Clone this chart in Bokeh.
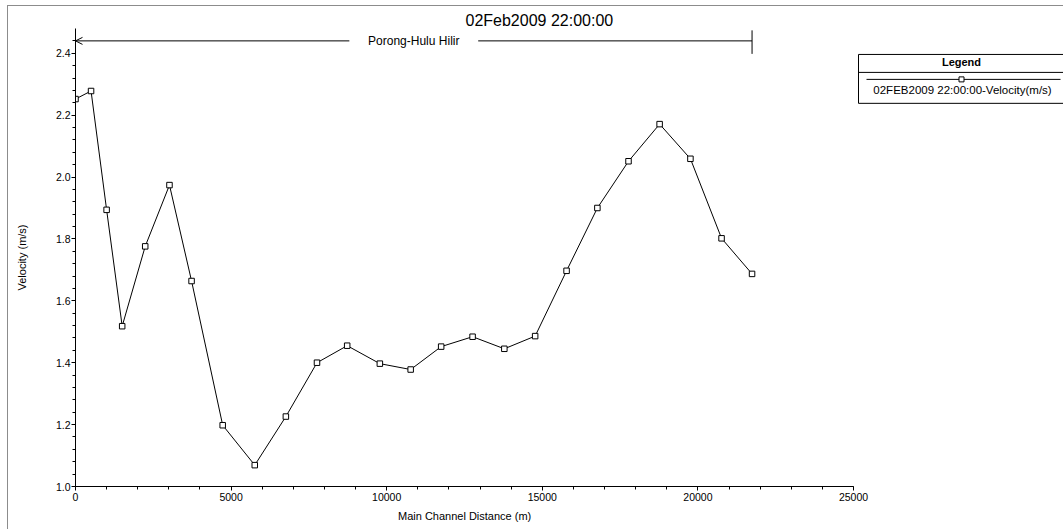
from bokeh.plotting import figure
from bokeh.models import (Range1d, FixedTicker, NumeralTickFormatter, Arrow,
                          OpenHead, Title, ColumnDataSource)
from bokeh.core.properties import value
from bokeh.embed import file_html
from bokeh.resources import INLINE

# ---------------- data ----------------
distance_m = [0, 500, 1000, 1500, 2240, 3020, 3730, 4730, 5760, 6760, 7760, 8730,
              9780, 10770, 11750, 12760, 13780, 14770, 15780, 16770, 17770, 18770,
              19760, 20760, 21740]
velocity = [2.252, 2.278, 1.894, 1.518, 1.776, 1.974, 1.664, 1.198, 1.069, 1.226,
            1.400, 1.455, 1.397, 1.378, 1.452, 1.484, 1.445, 1.486, 1.697, 1.900,
            2.051, 2.171, 2.059, 1.802, 1.687]
x_ticks = [0, 5000, 10000, 15000, 20000, 25000]
x_minor = [v for v in range(0, 25001, 1000)]
y_ticks = [1.0, 1.2, 1.4, 1.6, 1.8, 2.0, 2.2, 2.4]
y_minor = [round(1.0 + 0.04 * i, 2) for i in range(0, 37)]
title_text = "02Feb2009 22:00:00"
reach_name = "Porong-Hulu Hilir"
series_name = "02FEB2009 22:00:00-Velocity(m/s)"
x_label = "Main Channel Distance (m)"
y_label = "Velocity (m/s)"

FONT = "Liberation Sans"

# ---------------- layout ----------------
FIG_W, FIG_H = 1063, 529
B_LEFT, B_RIGHT, B_TOP, B_BOTTOM = 75, 0, 28, 42
AXIS_END_PX = 853                      # pixel where the x axis (25000) ends
frame_l, frame_r = B_LEFT, FIG_W - B_RIGHT
frame_t, frame_b = B_TOP, FIG_H - B_BOTTOM
x_max = x_ticks[-1]
x_end = x_max * (frame_r - frame_l) / (AXIS_END_PX - frame_l)

p = figure(width=FIG_W, height=FIG_H, output_backend="svg", toolbar_location=None,
           x_range=Range1d(0, x_end), y_range=Range1d(1.0, 2.48),
           min_border_left=B_LEFT, min_border_right=B_RIGHT,
           min_border_top=B_TOP, min_border_bottom=B_BOTTOM,
           outline_line_color=None, background_fill_color="white",
           border_fill_color=None)
p.styles = {
    "background": ("linear-gradient(#8c8c8c,#8c8c8c) 7px 5px / 1px 100% no-repeat, "
                   "linear-gradient(#8c8c8c,#8c8c8c) 7px 5px / 100% 1px no-repeat, white"),
}

# page-pixel coordinate system for the legend decorations
p.extra_x_ranges = {"px": Range1d(frame_l, frame_r)}
p.extra_y_ranges = {"py": Range1d(frame_b, frame_t)}

p.grid.visible = False

p.title = Title(text=title_text, align="left", offset=390, standoff=0,
                text_font=FONT, text_font_size="16px", text_font_style="normal",
                text_color="black")

for ax in (p.xaxis[0], p.yaxis[0]):
    ax.axis_line_color = "black"
    ax.major_tick_line_color = "black"
    ax.minor_tick_line_color = "black"
    ax.major_tick_in = 0
    ax.major_tick_out = 4
    ax.minor_tick_in = 0
    ax.minor_tick_out = 3
    ax.major_label_text_font = FONT
    ax.major_label_text_font_size = "10.5px"
    ax.major_label_text_color = "black"
    ax.axis_label_text_font = FONT
    ax.axis_label_text_font_size = "11px"
    ax.axis_label_text_font_style = "normal"
    ax.axis_label_text_color = "black"
    ax.major_label_standoff = 1

p.xaxis.bounds = (0, x_max)
p.xaxis.major_label_standoff = 2
p.xaxis.ticker = FixedTicker(ticks=x_ticks, minor_ticks=x_minor)
p.yaxis.ticker = FixedTicker(ticks=y_ticks, minor_ticks=y_minor)
p.xaxis.formatter = NumeralTickFormatter(format="0")
p.yaxis.formatter = NumeralTickFormatter(format="0.0")
p.yaxis.axis_label = y_label
p.yaxis.axis_label_standoff = 25

# x-axis title, centred under the axis (not under the wider frame)
x_label_w = 133
p.add_layout(Title(text=x_label, align="left",
                   offset=(AXIS_END_PX - frame_l) / 2 - x_label_w / 2,
                   vertical_align="top", standoff=12,
                   text_font=FONT, text_font_size="11px", text_font_style="normal",
                   text_color="black"), "below")

src = ColumnDataSource(dict(x=distance_m, y=velocity))
p.line("x", "y", source=src, line_color="black", line_width=1)
p.scatter("x", "y", source=src, marker="square", size=5.5, fill_color="white",
          line_color="black", line_width=1)

# reach arrow
reach_start = distance_m[0]
reach_end = distance_m[-1]
reach_mid = (reach_start + reach_end) / 2
reach_y = 2.44
GAP = 2070
p.add_layout(Arrow(end=OpenHead(size=7, line_width=1, line_color="black"),
                   x_start=reach_mid - GAP, y_start=reach_y,
                   x_end=reach_start, y_end=reach_y, line_color="black", line_width=1))
p.segment(x0=[reach_mid + GAP, reach_end], y0=[reach_y, 2.398],
          x1=[reach_end, reach_end], y1=[reach_y, 2.474],
          line_color="black", line_width=1)
p.text(x=[reach_mid], y=[reach_y], text=[reach_name], text_align="center",
       text_baseline="middle", text_font=value(FONT), text_font_size="12px",
       text_color="black")

# legend box (page pixel coordinates)
LG = dict(x_range_name="px", y_range_name="py")
p.quad(left=[858], right=[1075], top=[54], bottom=[103], fill_color="white",
       line_color="black", line_width=1, **LG)
p.segment(x0=[858, 866], y0=[72, 79], x1=[1075, 1060], y1=[72, 79],
          line_color="black", line_width=1, **LG)
p.scatter(x=[961], y=[79], marker="square", size=5, fill_color="white",
          line_color="black", line_width=1, **LG)
p.text(x=[961], y=[62], text=["Legend"], text_align="center", text_baseline="middle",
       text_font=value(FONT), text_font_size="11px", text_font_style="bold",
       text_color="black", **LG)
p.text(x=[962], y=[90], text=[series_name], text_align="center", text_baseline="middle",
       text_font=value(FONT), text_font_size="11.5px", text_color="black", **LG)

open("out.html", "w").write(file_html(p, INLINE))
